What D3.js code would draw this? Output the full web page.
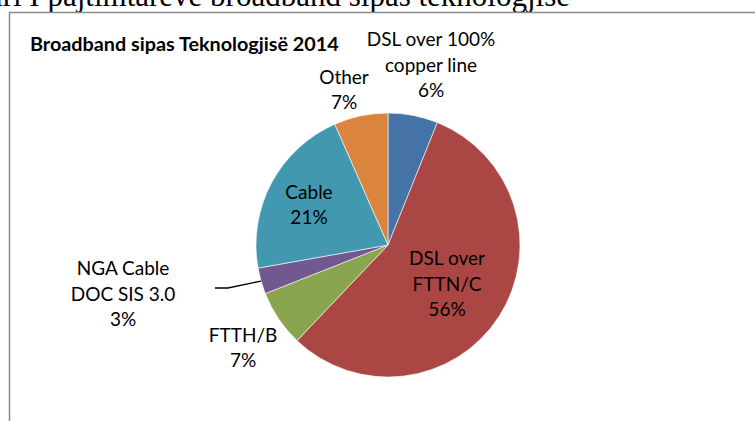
<!DOCTYPE html>
<html>
<head>
<meta charset="utf-8">
<script src="https://cdn.jsdelivr.net/npm/d3@7"></script>
<style>
  body { margin: 0; background: #fff; }
  svg { display: block; }
</style>
</head>
<body>
<div id="chart"></div>
<script>
// Broadband sipas Teknologjise 2014 - shares
var categories = ["DSL over 100% copper line", "DSL over FTTN/C", "FTTH/B", "NGA Cable DOC SIS 3.0", "Cable", "Other"];
var labelLines = [["DSL over 100%", "copper line"], ["DSL over", "FTTN/C"], ["FTTH/B"], ["NGA Cable", "DOC SIS 3.0"], ["Cable"], ["Other"]];
var shares = [6.1, 56.0, 6.9, 3.2, 21.2, 6.6];
var colors = ["#4572A7", "#AA4643", "#89A54E", "#71588F", "#4198AF", "#DB843D"];

var width = 755, height = 421;
var cx = 388, cy = 245, radius = 132;

var data = categories.map(function (c, i) {
    return {name: c, lines: labelLines[i], value: shares[i], color: colors[i]};
});

var svg = d3.select("#chart").append("svg")
    .attr("width", width)
    .attr("height", height);

// document heading, cut off at the top of the picture
svg.append("text")
    .attr("x", 570)
    .attr("y", 6)
    .attr("text-anchor", "end")
    .style("font-family", "'Liberation Serif', 'Times New Roman', serif")
    .style("font-size", "31px")
    .text("Numri I pajtimtarëve broadband sipas teknologjisë");

// chart frame (only top and left edges are visible)
svg.append("path")
    .attr("d", "M9.5," + height + "V12.5H" + width)
    .style("fill", "none")
    .style("stroke", "#8a8a8a")
    .style("stroke-width", 1.5);

svg.append("text")
    .attr("x", 30)
    .attr("y", 51)
    .style("font-family", "Lato, 'Open Sans', sans-serif")
    .style("font-weight", "bold")
    .style("font-size", "19.8px")
    .text("Broadband sipas Teknologjisë 2014");

var pie = d3.pie()
    .sort(null)
    .value(function (d) { return d.value; });

var arc = d3.arc()
    .innerRadius(0)
    .outerRadius(radius);

var arcs = pie(data);

var g = svg.append("g")
    .attr("transform", "translate(" + cx + "," + cy + ")");

g.selectAll("path.slice")
    .data(arcs)
    .enter().append("path")
    .attr("class", "slice")
    .attr("d", arc)
    .style("fill", function (d) { return d.data.color; })
    .style("stroke", "#fff")
    .style("stroke-width", 0.6);

// label centers, relative to the pie center
var labelPos = [
    [43, -180],
    [59, 39],
    [-145, 103],
    [-265, 49],
    [-79, -40],
    [-44, -155]
];

var lineH = 25.5;

var labels = g.selectAll("text.lbl")
    .data(arcs)
    .enter().append("text")
    .attr("class", "lbl")
    .attr("text-anchor", "middle")
    .style("font-family", "Lato, 'Open Sans', sans-serif")
    .style("font-size", "19px")
    .style("fill", "#000");

labels.each(function (d, i) {
    var lines = d.data.lines.concat([Math.round(d.data.value) + "%"]);
    var t = d3.select(this);
    var y0 = labelPos[i][1] - (lines.length - 1) * lineH / 2;
    lines.forEach(function (s, k) {
        t.append("tspan")
            .attr("x", labelPos[i][0])
            .attr("y", y0 + k * lineH)
            .attr("dy", "0.35em")
            .text(s);
    });
});

// leader line for the small NGA slice
var nga = arcs[3];
var mid = (nga.startAngle + nga.endAngle) / 2;
var edge = [Math.sin(mid) * radius, -Math.cos(mid) * radius];
g.append("path")
    .attr("d", d3.line()([[-173, 43], [-160, 43], edge]))
    .style("fill", "none")
    .style("stroke", "#000")
    .style("stroke-width", 1.3);
</script>
</body>
</html>
